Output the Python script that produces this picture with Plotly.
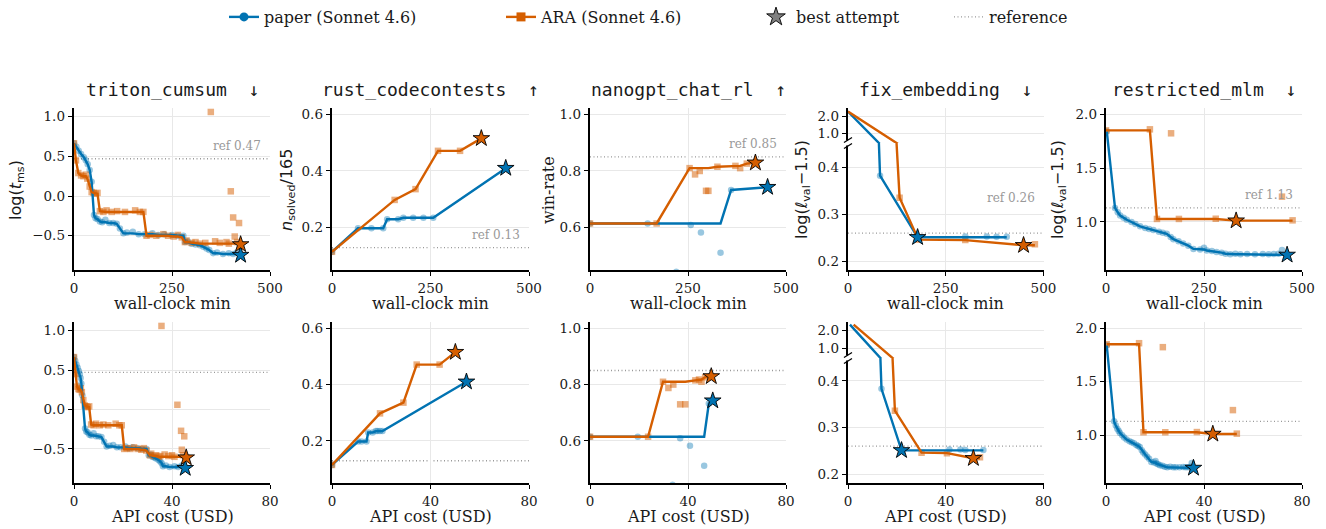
import plotly.graph_objects as go

W, H = 1326, 529
BLUE = "#0173b2"
ORANGE = "#d55e00"
GRID = "#e8e8e8"
REF_GRAY = "#999999"
TEXT = "#1a1a1a"

# ---------------- data ----------------
TASKS = ["triton_cumsum", "rust_codecontests", "nanogpt_chat_rl", "fix_embedding", "restricted_mlm"]
ARROWS = ["↓", "↑", "↑", "↓", "↓"]
HIGHER_BETTER = [False, True, True, False, False]
REFERENCE = [0.47, 0.13, 0.85, 0.26, 1.13]
Y_LABELS = ["log(<i>t</i><sub>ms</sub>)", "<i>n</i><sub>solved</sub>/165", "win-rate",
            "log(<i>ℓ</i><sub>val</sub>−1.5)", "log(<i>ℓ</i><sub>val</sub>−1.5)"]
X_LABELS = ["wall-clock min", "API cost (USD)"]
X_TICKS = [[0, 250, 500], [0, 40, 80]]
Y_TICKS = [[-0.5, 0.0, 0.5, 1.0], [0.2, 0.4, 0.6], [0.6, 0.8, 1.0], [0.2, 0.3, 0.4], [1.0, 1.5, 2.0]]
FIX_UPPER_TICKS = [1.0, 2.0]
SERIES_NAMES = ["paper (Sonnet 4.6)", "ARA (Sonnet 4.6)", "best attempt", "reference"]

# triton_cumsum
TRITON_PAPER_T = [0, 6, 12, 18, 25, 30, 35, 40, 45, 51, 55, 60, 66, 72, 80, 90, 100, 109, 117, 126,
                  135, 150, 165, 180, 200, 215, 230, 250, 265, 279, 283, 290, 300, 310, 321, 330, 338,
                  345, 355, 365, 380, 395, 406, 415, 425]
TRITON_PAPER_C = [0.0, 0.5, 1.0, 1.5, 2.0, 2.4, 2.7, 3.0, 3.4, 4.5, 5.0, 5.6, 6.3, 7.0, 8.0, 9.0, 10.0,
                  11.2, 12.3, 13.3, 14.5, 16.0, 17.5, 19.0, 21.0, 22.5, 24.0, 26.0, 27.8, 29.6, 30.5,
                  31.3, 32.0, 32.8, 33.5, 34.5, 35.2, 35.8, 36.3, 37.5, 39.0, 41.0, 42.5, 44.0, 45.4]
TRITON_PAPER_Y = [0.665, 0.62, 0.57, 0.53, 0.49, 0.45, 0.40, 0.33, 0.18, -0.24, -0.28, -0.29, -0.32,
                  -0.33, -0.30, -0.34, -0.34, -0.35, -0.41, -0.47, -0.46, -0.45, -0.48, -0.48, -0.47,
                  -0.49, -0.48, -0.49, -0.50, -0.50, -0.58, -0.57, -0.60, -0.61, -0.62, -0.64, -0.66,
                  -0.68, -0.72, -0.71, -0.73, -0.72, -0.73, -0.71, -0.744]
TRITON_ARA_T = [0, 5, 11, 18, 24, 30, 34, 40, 45, 50, 55, 60, 66, 75, 83, 96, 110, 130, 156, 168, 177,
                185, 194, 210, 228, 240, 254, 265, 275, 283, 287, 300, 310, 321, 335, 349, 360, 372,
                389, 395, 400, 406, 410, 416, 421, 425]
TRITON_ARA_C = [0.0, 0.6, 1.2, 1.8, 2.3, 2.8, 3.2, 3.8, 4.4, 5.0, 5.6, 6.2, 7.0, 8.0, 9.0, 10.5, 12.0,
                14.0, 17.0, 18.5, 19.5, 20.5, 21.5, 23.0, 24.5, 26.0, 27.5, 28.5, 29.5, 31.0, 31.5,
                32.5, 33.5, 34.5, 35.2, 35.7, 37.0, 38.5, 40.0, 41.0, 42.2, 43.7, 44.0, 44.5, 45.0, 45.8]
TRITON_ARA_Y = [0.665, 0.45, 0.29, 0.26, 0.25, 0.27, 0.22, 0.12, 0.05, 0.04, 0.03, 0.04, -0.19, -0.20,
                -0.18, -0.20, -0.19, -0.20, -0.18, -0.20, -0.20, -0.50, -0.49, -0.50, -0.48, -0.50,
                -0.51, -0.49, -0.52, -0.58, -0.56, -0.59, -0.58, -0.60, -0.59, 1.06, -0.57, -0.59,
                -0.58, -0.60, 0.06, -0.27, -0.51, -0.58, -0.34, -0.61]

# rust_codecontests
RUST_PAPER_T = [0, 66, 100, 130, 140, 168, 181, 206, 232, 257, 441]
RUST_PAPER_C = [0.0, 10.6, 12.0, 14.0, 14.7, 16.5, 17.8, 18.5, 19.5, 20.5, 54.6]
RUST_PAPER_Y = [0.115, 0.198, 0.198, 0.198, 0.23, 0.23, 0.235, 0.235, 0.235, 0.235, 0.41]
RUST_ARA_T = [0, 159, 212, 269, 325, 379]
RUST_ARA_C = [0.0, 19.5, 29.0, 34.4, 43.7, 50.1]
RUST_ARA_Y = [0.115, 0.298, 0.336, 0.471, 0.471, 0.515]

# nanogpt_chat_rl
NANO_PAPER_T = [0, 147, 220, 257, 283, 333, 360, 453]
NANO_PAPER_C = [0.0, 19.5, 33.7, 36.8, 40.8, 46.6, 48.5, 50.1]
NANO_PAPER_Y = [0.615, 0.615, 0.445, 0.61, 0.583, 0.512, 0.733, 0.743]
NANO_ARA_T = [0, 170, 254, 268, 280, 296, 302, 325, 371, 383, 400, 422]
NANO_ARA_C = [0.0, 23.7, 29.8, 32.0, 34.0, 36.8, 38.9, 43.0, 44.5, 45.5, 47.0, 49.5]
NANO_ARA_Y = [0.615, 0.615, 0.81, 0.788, 0.80, 0.73, 0.73, 0.815, 0.818, 0.81, 0.826, 0.829]

# fix_embedding
FIX_PAPER_T = [0, 82, 178, 300, 355, 380, 406]
FIX_PAPER_C = [0.8, 13.7, 21.9, 41.5, 46.0, 48.0, 55.4]
FIX_PAPER_Y = [2.3, 0.383, 0.251, 0.253, 0.253, 0.252, 0.252]
FIX_ARA_T = [0, 132, 180, 300, 449, 478]
FIX_ARA_C = [2.3, 19.2, 30.1, 40.5, 51.3, 54.0]
FIX_ARA_Y = [2.3, 0.336, 0.246, 0.245, 0.234, 0.236]

# restricted_mlm
MLM_PAPER_T = [2, 23, 30, 36, 45, 53, 65, 75, 87, 100, 110, 121, 135, 145, 155, 165, 172, 185, 197,
               210, 223, 240, 250, 257, 270, 282, 295, 305, 317, 330, 343, 360, 380, 400, 415, 428,
               440, 449, 462]
MLM_PAPER_C = [0.3, 3.3, 4.0, 4.6, 5.2, 5.7, 6.6, 7.4, 8.4, 9.6, 10.5, 11.4, 12.4, 13.1, 13.8, 14.6,
               15.2, 16.0, 16.8, 17.6, 18.5, 19.6, 20.2, 20.6, 21.3, 22.0, 23.0, 24.0, 25.0, 26.2,
               27.5, 28.5, 30.0, 31.5, 32.5, 33.5, 34.4, 35.0, 35.7]
MLM_PAPER_Y = [1.84, 1.13, 1.09, 1.06, 1.04, 1.02, 1.00, 0.98, 0.96, 0.945, 0.935, 0.925, 0.91, 0.90,
               0.89, 0.86, 0.84, 0.82, 0.80, 0.78, 0.75, 0.745, 0.76, 0.735, 0.73, 0.72, 0.715, 0.705,
               0.70, 0.705, 0.70, 0.702, 0.70, 0.703, 0.70, 0.702, 0.705, 0.74, 0.694]
MLM_ARA_T = [0, 112, 130, 166, 186, 280, 332, 449, 476]
MLM_ARA_C = [0.3, 13.5, 15.3, 23.2, 24.2, 37.1, 43.6, 51.8, 53.4]
MLM_ARA_Y = [1.85, 1.86, 1.028, 1.823, 1.028, 1.03, 1.012, 1.235, 1.015]

PAPER_RUNS = [(TRITON_PAPER_T, TRITON_PAPER_C, TRITON_PAPER_Y), (RUST_PAPER_T, RUST_PAPER_C, RUST_PAPER_Y),
              (NANO_PAPER_T, NANO_PAPER_C, NANO_PAPER_Y), (FIX_PAPER_T, FIX_PAPER_C, FIX_PAPER_Y),
              (MLM_PAPER_T, MLM_PAPER_C, MLM_PAPER_Y)]
ARA_RUNS = [(TRITON_ARA_T, TRITON_ARA_C, TRITON_ARA_Y), (RUST_ARA_T, RUST_ARA_C, RUST_ARA_Y),
            (NANO_ARA_T, NANO_ARA_C, NANO_ARA_Y), (FIX_ARA_T, FIX_ARA_C, FIX_ARA_Y),
            (MLM_ARA_T, MLM_ARA_C, MLM_ARA_Y)]

# ---------------- layout geometry (pixels) ----------------
COL_PX = [(74, 270), (332, 529), (590, 786), (848, 1043.5), (1106, 1302)]
ROW_PX = [(108, 270), (322, 483)]
FIX_BREAK_PX = [143, 358]                       # broken-axis split (upper / lower part)
X_RANGE = [[0, 500], [0, 80]]
Y_RANGE = [[-0.932, 1.11], [0.051, 0.622], [0.451, 1.022], None, [0.554, 2.058]]
FIX_LOWER_RANGE = [[0.181, 0.453], [0.181, 0.449]]
FIX_UPPER_RANGE = [[0.453, 2.512], [0.449, 2.443]]
FIX_COL = 3


def running_best(vals, higher):
    out, best = [], None
    for v in vals:
        if best is None or (v > best if higher else v < best):
            best = v
        out.append(best)
    return out


def best_index(vals, higher):
    target = max(vals) if higher else min(vals)
    return vals.index(target)


fig = go.Figure()
layout_axes = {}
annotations = []
shapes = []
counter = [0]

TICK_FONT = dict(family="DejaVu Serif", size=13.5, color=TEXT)
common_axis = dict(showgrid=True, gridcolor=GRID, gridwidth=1, zeroline=False, showline=True,
                   linecolor="black", linewidth=1.6, ticks="outside", ticklen=4.5, tickwidth=1.3,
                   tickcolor="black", fixedrange=True, automargin=False)


def new_axes(xpx, ypx, xrange, yrange, xticks, yticks, show_x=True):
    counter[0] += 1
    s = "" if counter[0] == 1 else str(counter[0])
    xa = dict(common_axis, domain=[xpx[0] / W, xpx[1] / W], range=xrange, anchor="y" + s,
              tickvals=xticks, tickfont=dict(TICK_FONT))
    if not show_x:
        xa.update(showline=False, ticks="", showticklabels=False)
    ya = dict(common_axis, domain=[1 - ypx[1] / H, 1 - ypx[0] / H], range=yrange, anchor="x" + s,
              tickvals=yticks, tickformat=".1f", tickfont=dict(TICK_FONT))
    layout_axes["xaxis" + s] = xa
    layout_axes["yaxis" + s] = ya
    return "x" + s, "y" + s


def add_panel(xr, yr, runs, higher, lines_only=False):
    if not lines_only:
        for x, y, color, sym, alpha in runs:
            fig.add_trace(go.Scatter(x=x, y=y, mode="markers", xaxis=xr, yaxis=yr, showlegend=False,
                                     marker=dict(color=color, symbol=sym, size=6.5, opacity=alpha,
                                                 line=dict(width=0)), hoverinfo="skip"))
    for x, y, color, sym, alpha in runs:
        fig.add_trace(go.Scatter(x=x, y=running_best(y, higher), mode="lines", xaxis=xr, yaxis=yr,
                                 showlegend=False, line=dict(color=color, width=2.4),
                                 hoverinfo="skip"))
    if not lines_only:
        for x, y, color, sym, alpha in runs:
            b = best_index(y, higher)
            fig.add_trace(go.Scatter(x=[x[b]], y=[y[b]], mode="markers", xaxis=xr, yaxis=yr,
                                     showlegend=False,
                                     marker=dict(color=color, symbol="star", size=12.5,
                                                 line=dict(color="black", width=0.9)),
                                     hoverinfo="skip"))


for row in range(2):
    for col in range(5):
        pt, pc, py_ = PAPER_RUNS[col]
        at, ac, ay = ARA_RUNS[col]
        px_ = pt if row == 0 else pc
        ax_ = at if row == 0 else ac
        runs = [(px_, py_, BLUE, "circle", 0.4), (ax_, ay, ORANGE, "square", 0.5)]
        higher = HIGHER_BETTER[col]
        if col == FIX_COL:
            split = FIX_BREAK_PX[row]
            top, bottom = ROW_PX[row]
            xr, yr = new_axes(COL_PX[col], (split, bottom), X_RANGE[row], FIX_LOWER_RANGE[row],
                              X_TICKS[row], Y_TICKS[col])
            xu, yu = new_axes(COL_PX[col], (top, split), X_RANGE[row], FIX_UPPER_RANGE[row],
                              X_TICKS[row], FIX_UPPER_TICKS, show_x=False)
            add_panel(xu, yu, runs, higher, lines_only=True)
            add_panel(xr, yr, runs, higher)
            sx = COL_PX[col][0]
            shapes.append(dict(type="rect", xref="paper", yref="paper", layer="above",
                               x0=(sx - 2) / W, x1=(sx + 2) / W, y0=1 - (split + 2.5) / H,
                               y1=1 - (split - 2.5) / H, fillcolor="white", line=dict(width=0)))
            for yy in (split - 3, split + 3):
                shapes.append(dict(type="line", xref="paper", yref="paper", layer="above",
                                   x0=(sx - 4) / W, x1=(sx + 4) / W,
                                   y0=1 - (yy + 2.5) / H, y1=1 - (yy - 2.5) / H,
                                   line=dict(color="black", width=1.3)))
        else:
            xr, yr = new_axes(COL_PX[col], ROW_PX[row], X_RANGE[row], Y_RANGE[col], X_TICKS[row], Y_TICKS[col])
            add_panel(xr, yr, runs, higher)

        shapes.append(dict(type="line", xref=xr + " domain", yref=yr, x0=0, x1=1,
                           y0=REFERENCE[col], y1=REFERENCE[col], layer="below",
                           line=dict(color=REF_GRAY, width=1.3, dash="1px,2.5px")))
        if row == 0:
            annotations.append(dict(text=f"ref {REFERENCE[col]:.2f}", xref=xr + " domain", yref=yr,
                                    x=0.965, y=REFERENCE[col], xanchor="right", yanchor="bottom",
                                    yshift=26 if col == FIX_COL else 4, showarrow=False,
                                    font=dict(family="DejaVu Serif", size=12, color=REF_GRAY)))
        cx = (COL_PX[col][0] + COL_PX[col][1]) / 2 / W
        annotations.append(dict(text=X_LABELS[row], xref="paper", yref="paper", x=cx,
                                y=1 - (303 if row == 0 else 516) / H, xanchor="center", yanchor="middle",
                                showarrow=False, font=dict(family="DejaVu Serif", size=16, color=TEXT)))
        if row == 0:
            annotations.append(dict(text=TASKS[col] + "\u00a0\u00a0" + ARROWS[col], xref="paper",
                                    yref="paper", x=cx, y=1 - 90 / H, xanchor="center",
                                    yanchor="middle", showarrow=False,
                                    font=dict(family="DejaVu Sans Mono", size=18, color=TEXT)))

Y_LABEL_X_PX = [16, 287, 548, 802, 1058]
for col in range(5):
    fam = "DejaVu Serif" if col == 2 else "DejaVu Sans"
    annotations.append(dict(text=Y_LABELS[col], xref="paper", yref="paper", x=Y_LABEL_X_PX[col] / W,
                            y=1 - 190 / H, xanchor="center", yanchor="middle", textangle=-90,
                            showarrow=False, font=dict(family=fam, size=16, color=TEXT)))

fig.add_trace(go.Scatter(x=[None], y=[None], mode="lines+markers", name=SERIES_NAMES[0],
                         line=dict(color=BLUE, width=2.4), marker=dict(color=BLUE, symbol="circle", size=9),
                         legendwidth=232))
fig.add_trace(go.Scatter(x=[None], y=[None], mode="lines+markers", name=SERIES_NAMES[1],
                         line=dict(color=ORANGE, width=2.4), marker=dict(color=ORANGE, symbol="square", size=9),
                         legendwidth=210))
fig.add_trace(go.Scatter(x=[None], y=[None], mode="markers", name=SERIES_NAMES[2],
                         marker=dict(color="#808080", symbol="star", size=14, line=dict(color="black", width=0.9)),
                         legendwidth=148))
fig.add_trace(go.Scatter(x=[None], y=[None], mode="lines", name=SERIES_NAMES[3],
                         line=dict(color=REF_GRAY, width=1.3, dash="1px,2.5px")))

fig.update_layout(
    width=W, height=H, margin=dict(l=0, r=0, t=0, b=0),
    paper_bgcolor="white", plot_bgcolor="white", hovermode=False,
    font=dict(family="DejaVu Serif", color=TEXT),
    showlegend=True,
    legend=dict(orientation="h", x=224 / W, xanchor="left", y=1, yanchor="top",
                font=dict(family="DejaVu Serif", size=16, color=TEXT),
                bgcolor="rgba(0,0,0,0)", borderwidth=0, traceorder="normal"),
    annotations=annotations, shapes=shapes, **layout_axes)

fig.write_html("out.html", config={"displayModeBar": False},
               post_script="document.body.style.margin='0';")
